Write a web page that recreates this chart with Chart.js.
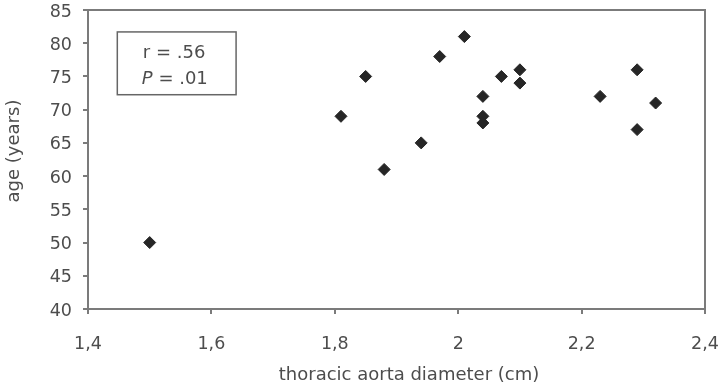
<!DOCTYPE html>
<html>
<head>
<meta charset="utf-8">
<title>Thoracic aorta diameter vs age</title>
<script src="https://cdn.jsdelivr.net/npm/chart.js@4.4.1/dist/chart.umd.min.js"></script>
<style>
  html, body { margin: 0; padding: 0; background: #fff; }
</style>
</head>
<body>
<canvas id="scatterChart" width="722" height="388"></canvas>
<script>
// one point per patient: diameter (cm) and age (years)
const diameters = [1.50, 1.81, 1.85, 1.88, 1.94, 1.97, 2.01, 2.04, 2.04, 2.04, 2.07, 2.10, 2.10, 2.23, 2.29, 2.29, 2.32];
const ages = [50, 69, 75, 61, 65, 78, 81, 72, 69, 68, 75, 76, 74, 72, 76, 67, 71];

const xTicks = [1.4, 1.6, 1.8, 2.0, 2.2, 2.4];
const xTickLabels = ["1,4", "1,6", "1,8", "2", "2,2", "2,4"];
const yTicks = [40, 45, 50, 55, 60, 65, 70, 75, 80, 85];

const xTitle = "thoracic aorta diameter (cm)";
const yTitle = "age (years)";
const rText = "r = .56";
const pText = " = .01";

const FONT = "'DejaVu Sans', sans-serif";
const TEXT = "#4d4d4d";
const AXIS = "#7b7b7b";

// stats box, placed in data units so it follows the axes
const box = { x0: 1.4475, x1: 1.640, y0: 81.7, y1: 72.25 };

const extras = {
  id: "extras",
  beforeDatasetsDraw(chart) {
    const { ctx, chartArea: a } = chart;
    ctx.save();
    ctx.strokeStyle = AXIS;
    ctx.lineWidth = 2;
    ctx.strokeRect(a.left, a.top, a.right - a.left, a.bottom - a.top);
    ctx.restore();
  },
  afterDraw(chart) {
    const { ctx, scales } = chart;
    const x = scales.x, y = scales.y;
    ctx.save();

    // axis titles
    ctx.fillStyle = TEXT;
    ctx.font = "18px " + FONT;
    ctx.textAlign = "center";
    ctx.textBaseline = "alphabetic";
    ctx.fillText(xTitle, 409, 380);
    ctx.translate(19, 151);
    ctx.rotate(-Math.PI / 2);
    ctx.fillText(yTitle, 0, 0);
    ctx.setTransform(1, 0, 0, 1, 0, 0);

    // r / P box
    const bx0 = x.getPixelForValue(box.x0), bx1 = x.getPixelForValue(box.x1);
    const by0 = y.getPixelForValue(box.y0), by1 = y.getPixelForValue(box.y1);
    ctx.strokeStyle = "#666";
    ctx.lineWidth = 1.5;
    ctx.fillStyle = "#fff";
    ctx.fillRect(bx0, by0, bx1 - bx0, by1 - by0);
    ctx.strokeRect(bx0, by0, bx1 - bx0, by1 - by0);

    ctx.fillStyle = TEXT;
    ctx.textAlign = "left";
    ctx.font = "18px " + FONT;
    ctx.fillText(rText, bx0 + 25.5, by0 + 26.5);
    ctx.font = "italic 18px " + FONT;
    ctx.fillText("P", bx0 + 24.5, by0 + 52.5);
    const pw = ctx.measureText("P").width;
    ctx.font = "18px " + FONT;
    ctx.fillText(pText, bx0 + 24.5 + pw, by0 + 52.5);

    ctx.restore();
  }
};

const ctx = document.getElementById("scatterChart").getContext("2d");

new Chart(ctx, {
  type: "scatter",
  data: {
    datasets: [
      {
        data: diameters.map((d, i) => ({ x: d, y: ages[i] })),
        pointStyle: "rectRot",
        pointRadius: 6,
        pointHoverRadius: 6,
        backgroundColor: "#262626",
        borderColor: "#262626",
        borderWidth: 1,
      },
    ],
  },
  options: {
    responsive: false,
    animation: false,
    devicePixelRatio: 1,
    layout: {
      padding: 0,
    },
    scales: {
      x: {
        type: "linear",
        min: 1.4,
        max: 2.4,
        afterBuildTicks: (scale) => {
          scale.ticks = xTicks.map((v) => ({ value: v }));
        },
        afterFit: (scale) => {
          scale.height = 79;
          scale.paddingLeft = 0;
          scale.paddingRight = 17;
        },
        ticks: {
          padding: 20,
          color: TEXT,
          font: { family: FONT, size: 17.5 },
          maxRotation: 0,
          callback: (v, i) => xTickLabels[i],
        },
        grid: {
          drawOnChartArea: false,
          drawTicks: true,
          tickLength: 5,
          color: AXIS,
          lineWidth: 2,
        },
        border: { display: false },
      },
      y: {
        min: 40,
        max: 85,
        afterBuildTicks: (scale) => {
          scale.ticks = yTicks.map((v) => ({ value: v }));
        },
        afterFit: (scale) => {
          scale.width = 88;
          scale.paddingTop = 10;
          scale.paddingBottom = 0;
        },
        ticks: {
          padding: 11,
          labelOffset: 2,
          color: TEXT,
          font: { family: FONT, size: 17.5 },
        },
        grid: {
          drawOnChartArea: false,
          drawTicks: true,
          tickLength: 5,
          color: AXIS,
          lineWidth: 2,
        },
        border: { display: false },
      },
    },
    plugins: {
      legend: { display: false },
      tooltip: { enabled: false },
    },
  },
  plugins: [extras],
});
</script>
</body>
</html>
